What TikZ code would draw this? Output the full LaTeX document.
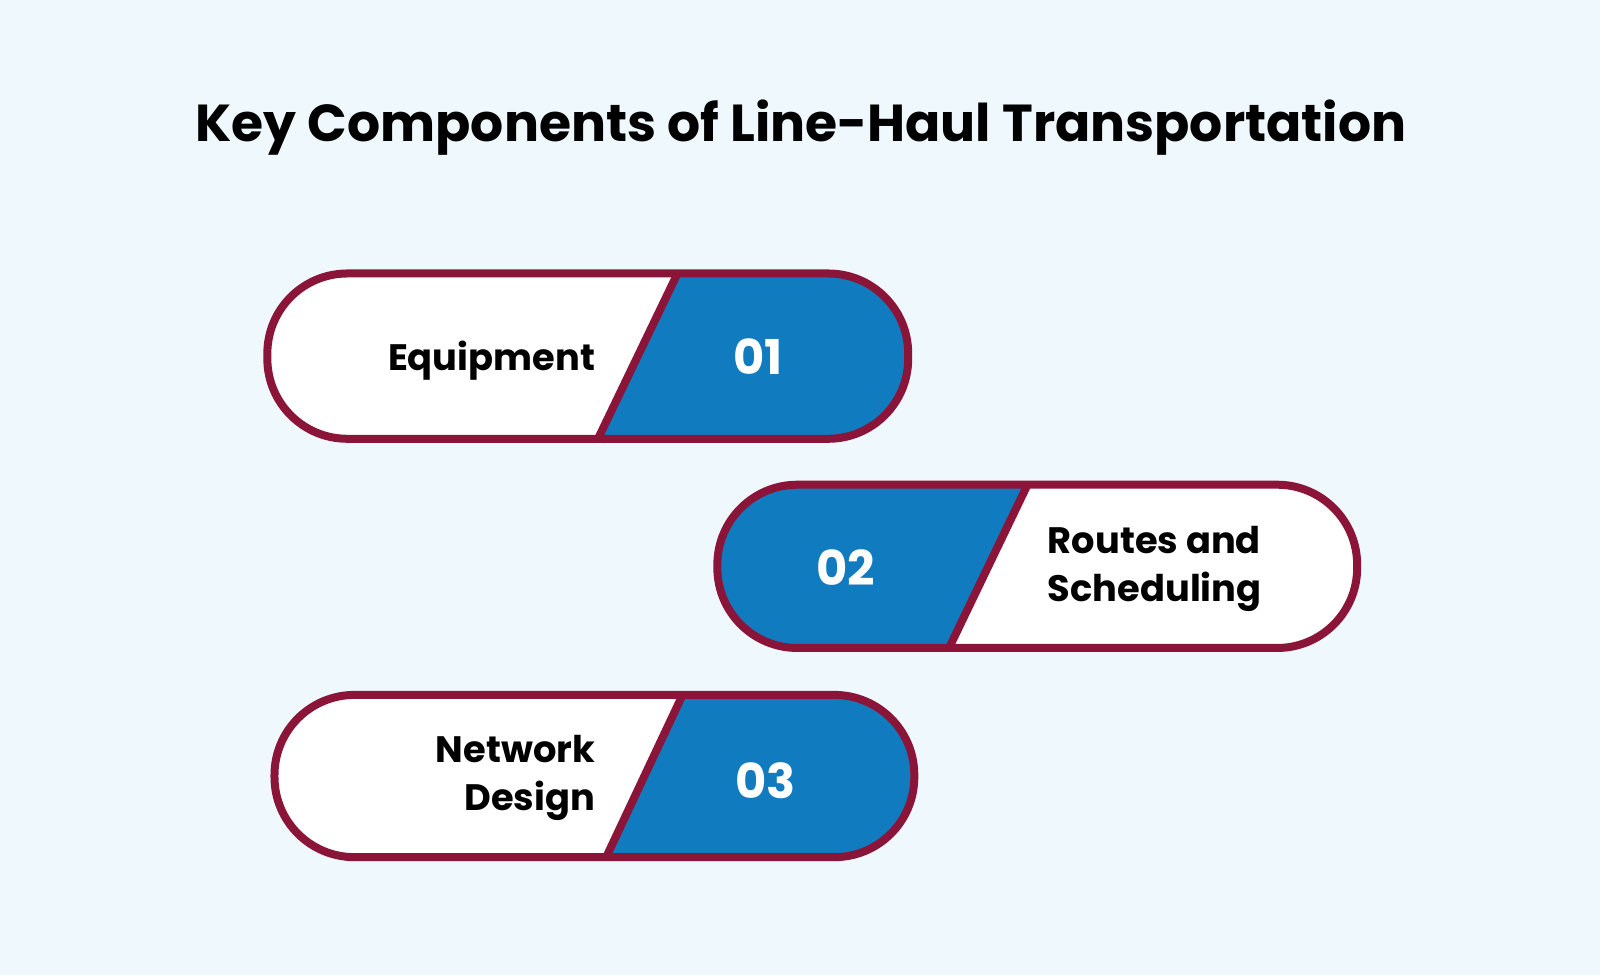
\documentclass[tikz,border=0pt]{standalone}
\usepackage{fontspec}
\setmainfont{Poppins}
\definecolor{bg}{HTML}{EEF8FD}
\definecolor{maroon}{HTML}{8B1538}
\definecolor{pblue}{HTML}{117BBF}
\begin{document}
\begin{tikzpicture}[x=0.5102pt,y=-0.5102pt,
  pill/.style={draw=maroon,line width=4pt,rounded corners=40pt},
  lbl/.style={font=\fontsize{18.4}{24}\selectfont\bfseries,text=black,align=right,anchor=east},
  rlbl/.style={font=\fontsize{18.4}{24}\selectfont\bfseries,text=black,align=left,anchor=west},
  num/.style={font=\fontsize{24}{28}\selectfont\bfseries,text=white}]
\fill[bg] (0,0) rectangle (1568,955.5);
\useasboundingbox (0,0) rectangle (1568,955.5);
\node[font=\fontsize{26}{30}\selectfont\bfseries] (title) at (785,125) {Key Components of Line-Haul Transportation};
% pill 1
\begin{scope}
\clip[rounded corners=40pt] (262,268) rectangle (890,430);
\fill[white] (262,268) rectangle (890,430);
\fill[pblue] (663,268) -- (890,268) -- (890,430) -- (586,430) -- cycle;
\end{scope}
\draw[maroon,line width=4pt] (663,270) -- (587,428);
\draw[pill] (262,268) rectangle (890,430);
\node[lbl] (t1) at (590,353) {Equipment};
\node[num] (n1) at (743,349) {01};
% pill 2
\begin{scope}
\clip[rounded corners=40pt] (703,475) rectangle (1330,635);
\fill[white] (703,475) rectangle (1330,635);
\fill[pblue] (703,475) -- (1007,475) -- (930,635) -- (703,635) -- cycle;
\end{scope}
\draw[maroon,line width=4pt] (1006,477) -- (931,633);
\draw[pill] (703,475) rectangle (1330,635);
\node[rlbl] (t2) at (1020,558) {Routes and\\Scheduling};
\node[num] (n2) at (829,556) {02};
% pill 3
\begin{scope}
\clip[rounded corners=40pt] (269,681) rectangle (896,840);
\fill[white] (269,681) rectangle (896,840);
\fill[pblue] (668,681) -- (896,681) -- (896,840) -- (594,840) -- cycle;
\end{scope}
\draw[maroon,line width=4pt] (668,683) -- (595,838);
\draw[pill] (269,681) rectangle (896,840);
\node[lbl] (t3) at (590,762) {Network\\Design};
\node[num] (n3) at (750,765) {03};
\end{tikzpicture}
\end{document}
